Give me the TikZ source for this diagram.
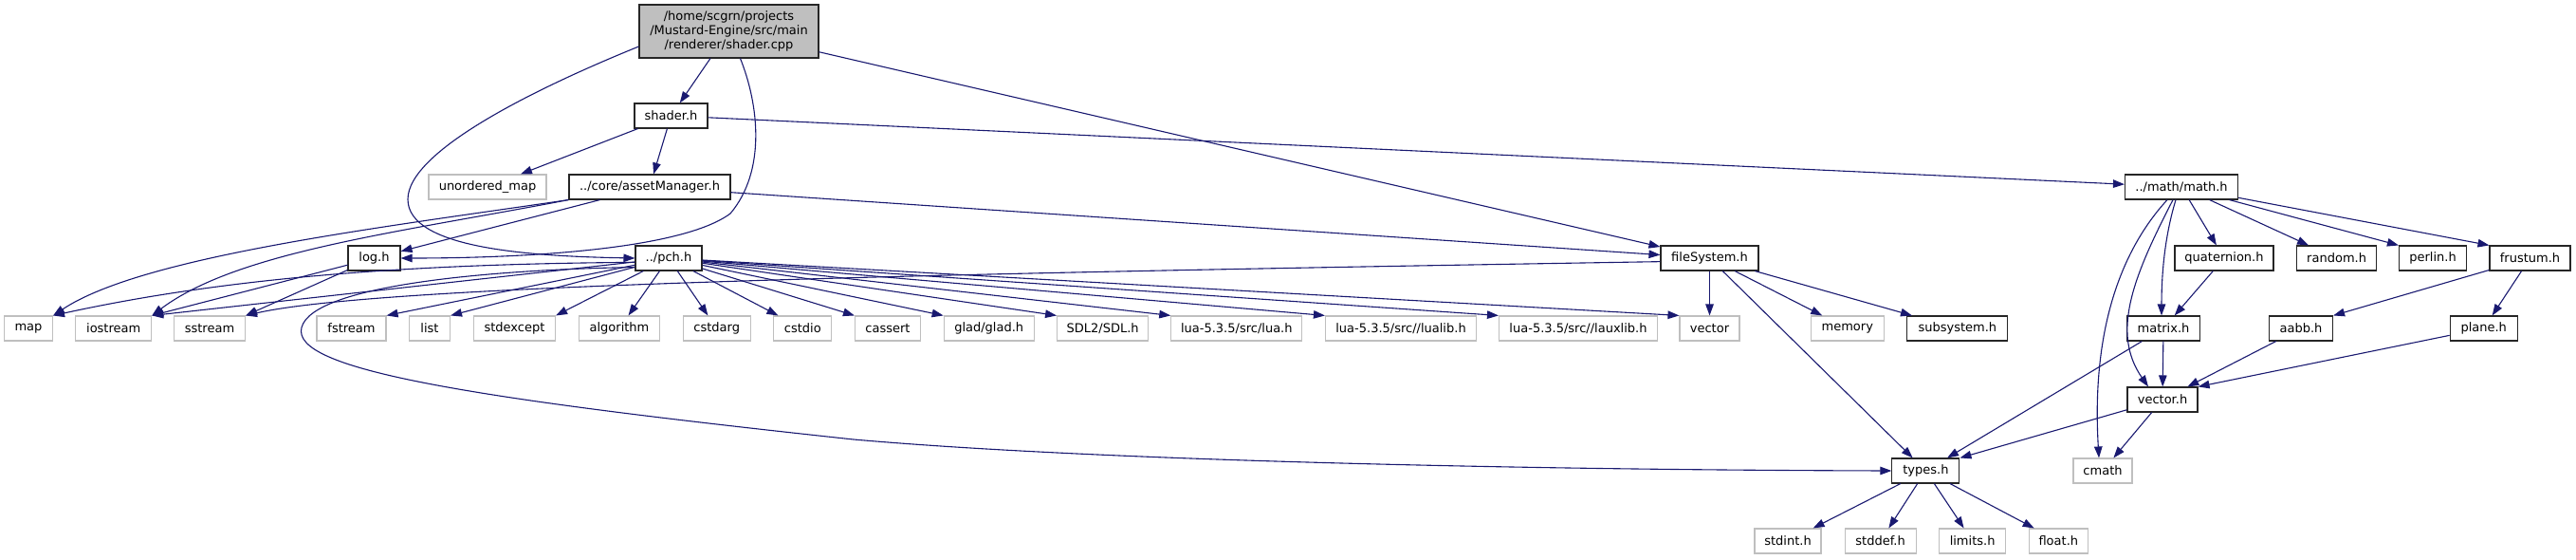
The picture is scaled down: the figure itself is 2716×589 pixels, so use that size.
\documentclass[tikz,border=0pt]{standalone}
\usepackage{fontspec}
\setmainfont{DejaVu Sans}
\usetikzlibrary{arrows.meta}
\definecolor{mblue}{HTML}{191970}
\definecolor{lgray}{HTML}{BFBFBF}
\newcommand{\dxfont}{\fontsize{13}{14.7}\selectfont}
\tikzset{
  box/.style={fill=white, line width=1.1pt, inner sep=0pt, minimum height=26pt, font=\dxfont},
  doc/.style={box, draw=black!85},
  sys/.style={box, draw=lgray},
  rootn/.style={box, draw=black!85, fill=lgray, align=center, minimum height=56pt},
  edge/.style={draw=mblue, line width=1.1pt, -{Triangle[length=12pt,width=8.5pt]}, fill=none}
}
\begin{document}
\begin{tikzpicture}[x=1pt,y=-1pt]
\useasboundingbox (0,0) rectangle (2716,589);
% nodes
\node[rootn, minimum width=189pt] (root) at (768.5,33) {/home/scgrn/projects\\/Mustard-Engine/src/main\\/renderer/shader.cpp};
\node[doc, minimum width=77pt] (shaderh) at (707.5,122) {shader.h};
\node[sys, minimum width=124pt] (umap) at (514,197) {unordered\_map};
\node[doc, minimum width=170pt] (asset) at (685,197) {../core/assetManager.h};
\node[doc, minimum width=55pt] (logh) at (394.5,272) {log.h};
\node[doc, minimum width=70pt] (pch) at (705,272) {../pch.h};
\node[doc, minimum width=103pt] (fsys) at (1802.5,272) {fileSystem.h};
\node[doc, minimum width=119pt] (mathh) at (2300,197) {../math/math.h};
\node[doc, minimum width=104pt] (quat) at (2345,272) {quaternion.h};
\node[doc, minimum width=84pt] (randomh) at (2463.6,272) {random.h};
\node[doc, minimum width=71pt] (perlin) at (2565,272) {perlin.h};
\node[doc, minimum width=85pt] (frustum) at (2667.5,272) {frustum.h};
\node[sys, minimum width=51pt] (mapn) at (30,346) {map};
\node[sys, minimum width=80pt] (iostream) at (119.7,346) {iostream};
\node[sys, minimum width=75pt] (sstream) at (221,346) {sstream};
\node[sys, minimum width=73pt] (fstream) at (370.5,346) {fstream};
\node[sys, minimum width=43pt] (listn) at (453,346) {list};
\node[sys, minimum width=86pt] (stdexcept) at (542.5,346) {stdexcept};
\node[sys, minimum width=85pt] (algorithm) at (653,346) {algorithm};
\node[sys, minimum width=71pt] (cstdarg) at (755.7,346) {cstdarg};
\node[sys, minimum width=61pt] (cstdio) at (846.3,346) {cstdio};
\node[sys, minimum width=69pt] (cassert) at (936,346) {cassert};
\node[sys, minimum width=95pt] (glad) at (1042.7,346) {glad/glad.h};
\node[sys, minimum width=96pt] (sdl) at (1162.6,346) {SDL2/SDL.h};
\node[sys, minimum width=138pt] (lua) at (1303.8,346) {lua-5.3.5/src/lua.h};
\node[sys, minimum width=159pt] (lualib) at (1477,346) {lua-5.3.5/src//lualib.h};
\node[sys, minimum width=167pt] (lauxlib) at (1664,346) {lua-5.3.5/src//lauxlib.h};
\node[sys, minimum width=63pt] (vecg) at (1802.5,346) {vector};
\node[sys, minimum width=77pt] (memory) at (1947.8,346) {memory};
\node[doc, minimum width=106pt] (subsys) at (2063.8,346) {subsystem.h};
\node[doc, minimum width=77pt] (matrix) at (2281,346) {matrix.h};
\node[doc, minimum width=67pt] (aabb) at (2426,346) {aabb.h};
\node[doc, minimum width=71pt] (planeh) at (2618.7,346) {plane.h};
\node[doc, minimum width=74pt] (vectorh) at (2280,421) {vector.h};
\node[doc, minimum width=71pt] (types) at (2030.4,496) {types.h};
\node[sys, minimum width=62pt] (cmath) at (2217,496) {cmath};
\node[sys, minimum width=70pt] (stdint) at (1885,570) {stdint.h};
\node[sys, minimum width=75pt] (stddef) at (1982.6,570) {stddef.h};
\node[sys, minimum width=70pt] (limits) at (2079.6,570) {limits.h};
\node[sys, minimum width=62pt] (floath) at (2170.3,570) {float.h};
% edges from root
\draw[edge] (root) -- (shaderh);
\draw[edge] (root) -- (fsys);
\draw[edge] ([yshift=-16pt]root.west) .. controls (560,95) and (430,160) .. (430,210) .. controls (430,262) and (560,270) .. (pch.west);
\draw[edge] ([xshift=12pt]root.south) .. controls (800,110) and (808,180) .. (770,225) .. controls (720,262) and (560,272) .. (logh.east);
% shader.h
\draw[edge] (shaderh) -- (umap);
\draw[edge] (shaderh) -- (asset);
\draw[edge] (shaderh) -- (mathh);
% assetManager
\draw[edge] (asset) -- (logh);
\draw[edge] (asset) -- (fsys);
\draw[edge] (asset.south west) .. controls (400,240) and (150,270) .. (mapn.north east);
\draw[edge] (asset.south west) .. controls (420,245) and (250,265) .. (iostream.north east);
% log.h
\draw[edge] (logh) -- (iostream.north east);
\draw[edge] (logh) -- (sstream.north east);
% pch.h
\draw[edge] (pch.187) .. controls (450,278) and (250,290) .. (mapn.north east);
\draw[edge] (pch) -- (iostream.north east);
\draw[edge] (pch) -- (fstream.north east);
\draw[edge] (pch) -- (listn.north east);
\draw[edge] (pch) -- (stdexcept.north east);
\draw[edge] (pch) -- (algorithm);
\draw[edge] (pch) -- (cstdarg);
\draw[edge] (pch) -- (cstdio);
\draw[edge] (pch) -- (cassert.north west);
\draw[edge] (pch) -- (glad.north west);
\draw[edge] (pch) -- (sdl.north west);
\draw[edge] (pch) -- (lua.north west);
\draw[edge] (pch) -- (lualib.north west);
\draw[edge] (pch) -- (lauxlib.north west);
\draw[edge] (pch) -- (vecg.north west);
\draw[edge] (pch.195) .. controls (520,284) and (330,300) .. (318,345) .. controls (306,390) and (500,420) .. (900,463) .. controls (1150,485) and (1600,495) .. (types.west);
% fileSystem.h
\draw[edge] (fsys.184) .. controls (1000,288) and (400,300) .. (sstream.north east);
\draw[edge] (fsys) -- (vecg);
\draw[edge] (fsys) -- (memory);
\draw[edge] (fsys) -- (subsys);
\draw[edge] (fsys) -- (types);
% math.h
\draw[edge] ([xshift=-15pt]mathh.south) .. controls (2235,265) and (2205,350) .. ([xshift=-4pt]cmath.north);
\draw[edge] ([xshift=-9pt]mathh.south) .. controls (2250,290) and (2225,350) .. ([xshift=-15pt]vectorh.north);
\draw[edge] ([xshift=-6pt]mathh.south) .. controls (2282,250) and (2279,290) .. ([xshift=-2pt]matrix.north);
\draw[edge] (mathh) -- (quat);
\draw[edge] (mathh) -- (randomh);
\draw[edge] (mathh) -- (perlin.north west);
\draw[edge] (mathh) -- (frustum.north west);
% math children
\draw[edge] (quat) -- (matrix);
\draw[edge] (frustum) -- (aabb.north east);
\draw[edge] (frustum) -- (planeh);
\draw[edge] (matrix) -- (vectorh);
\draw[edge] (matrix) -- (types);
\draw[edge] (aabb) -- (vectorh);
\draw[edge] (planeh) -- (vectorh.north east);
\draw[edge] (vectorh) -- (types.north east);
\draw[edge] (vectorh) -- (cmath);
% types.h
\draw[edge] (types) -- (stdint);
\draw[edge] (types) -- (stddef);
\draw[edge] (types) -- (limits);
\draw[edge] (types) -- (floath);
\end{tikzpicture}
\end{document}
